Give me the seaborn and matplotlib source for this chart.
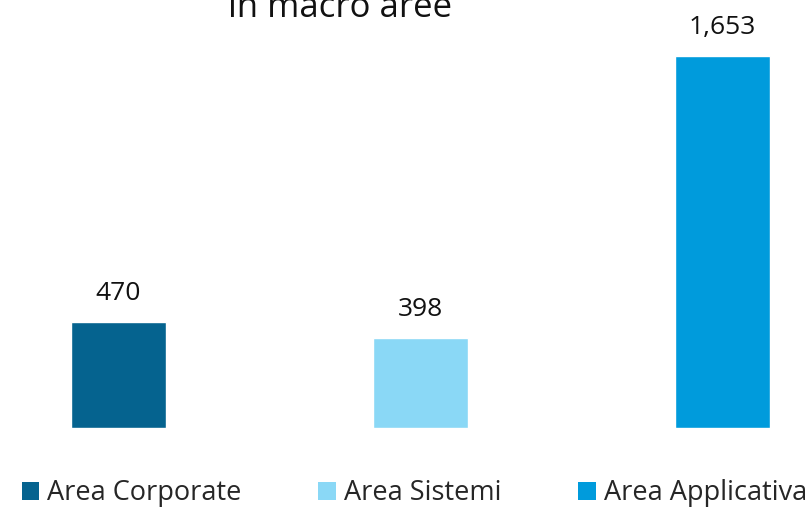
import seaborn as sns
import matplotlib.pyplot as plt
from matplotlib.patches import Patch

categories = ['Area Corporate', 'Area Sistemi', 'Area Applicativa']
values = [470, 398, 1653]
value_labels = ['470', '398', '1,653']
colors = ['#05638f', '#8ad8f6', '#009bdc']

sns.set_style('white')
plt.rcParams['font.family'] = ['Open Sans', 'DejaVu Sans']

fig = plt.figure(figsize=(8.07, 5.07), dpi=100)
ax = fig.add_axes([0, 1 - 428 / 507, 1, 428 / 507])

sns.barplot(x=categories, y=values, hue=categories, palette=colors,
            width=0.315, legend=False, ax=ax, saturation=1)

ax.set_xlim(-0.392, 2.28)
ax.set_ylim(0, 1902)
ax.axis('off')

# value labels above bars
for i, (v, lab) in enumerate(zip(values, value_labels)):
    ax.annotate(lab, (i, v), xytext=(0, 16), textcoords='offset points',
                ha='center', va='baseline', fontsize=19, color='#111111')

# title (first line falls outside the image)
fig.text(340 / 807, 1 - 17 / 507, 'in macro aree', ha='center', va='baseline',
         fontsize=25, color='#111111')

handles = [Patch(facecolor=c, edgecolor='none') for c in colors]
fig.legend(handles, categories, loc='lower left', bbox_to_anchor=(0.0135, -0.022),
           ncol=3, frameon=False, fontsize=19.5, handlelength=0.65, handleheight=0.65,
           handletextpad=0.28, columnspacing=2.85, borderaxespad=0)

fig.savefig('out.png', dpi=100)
